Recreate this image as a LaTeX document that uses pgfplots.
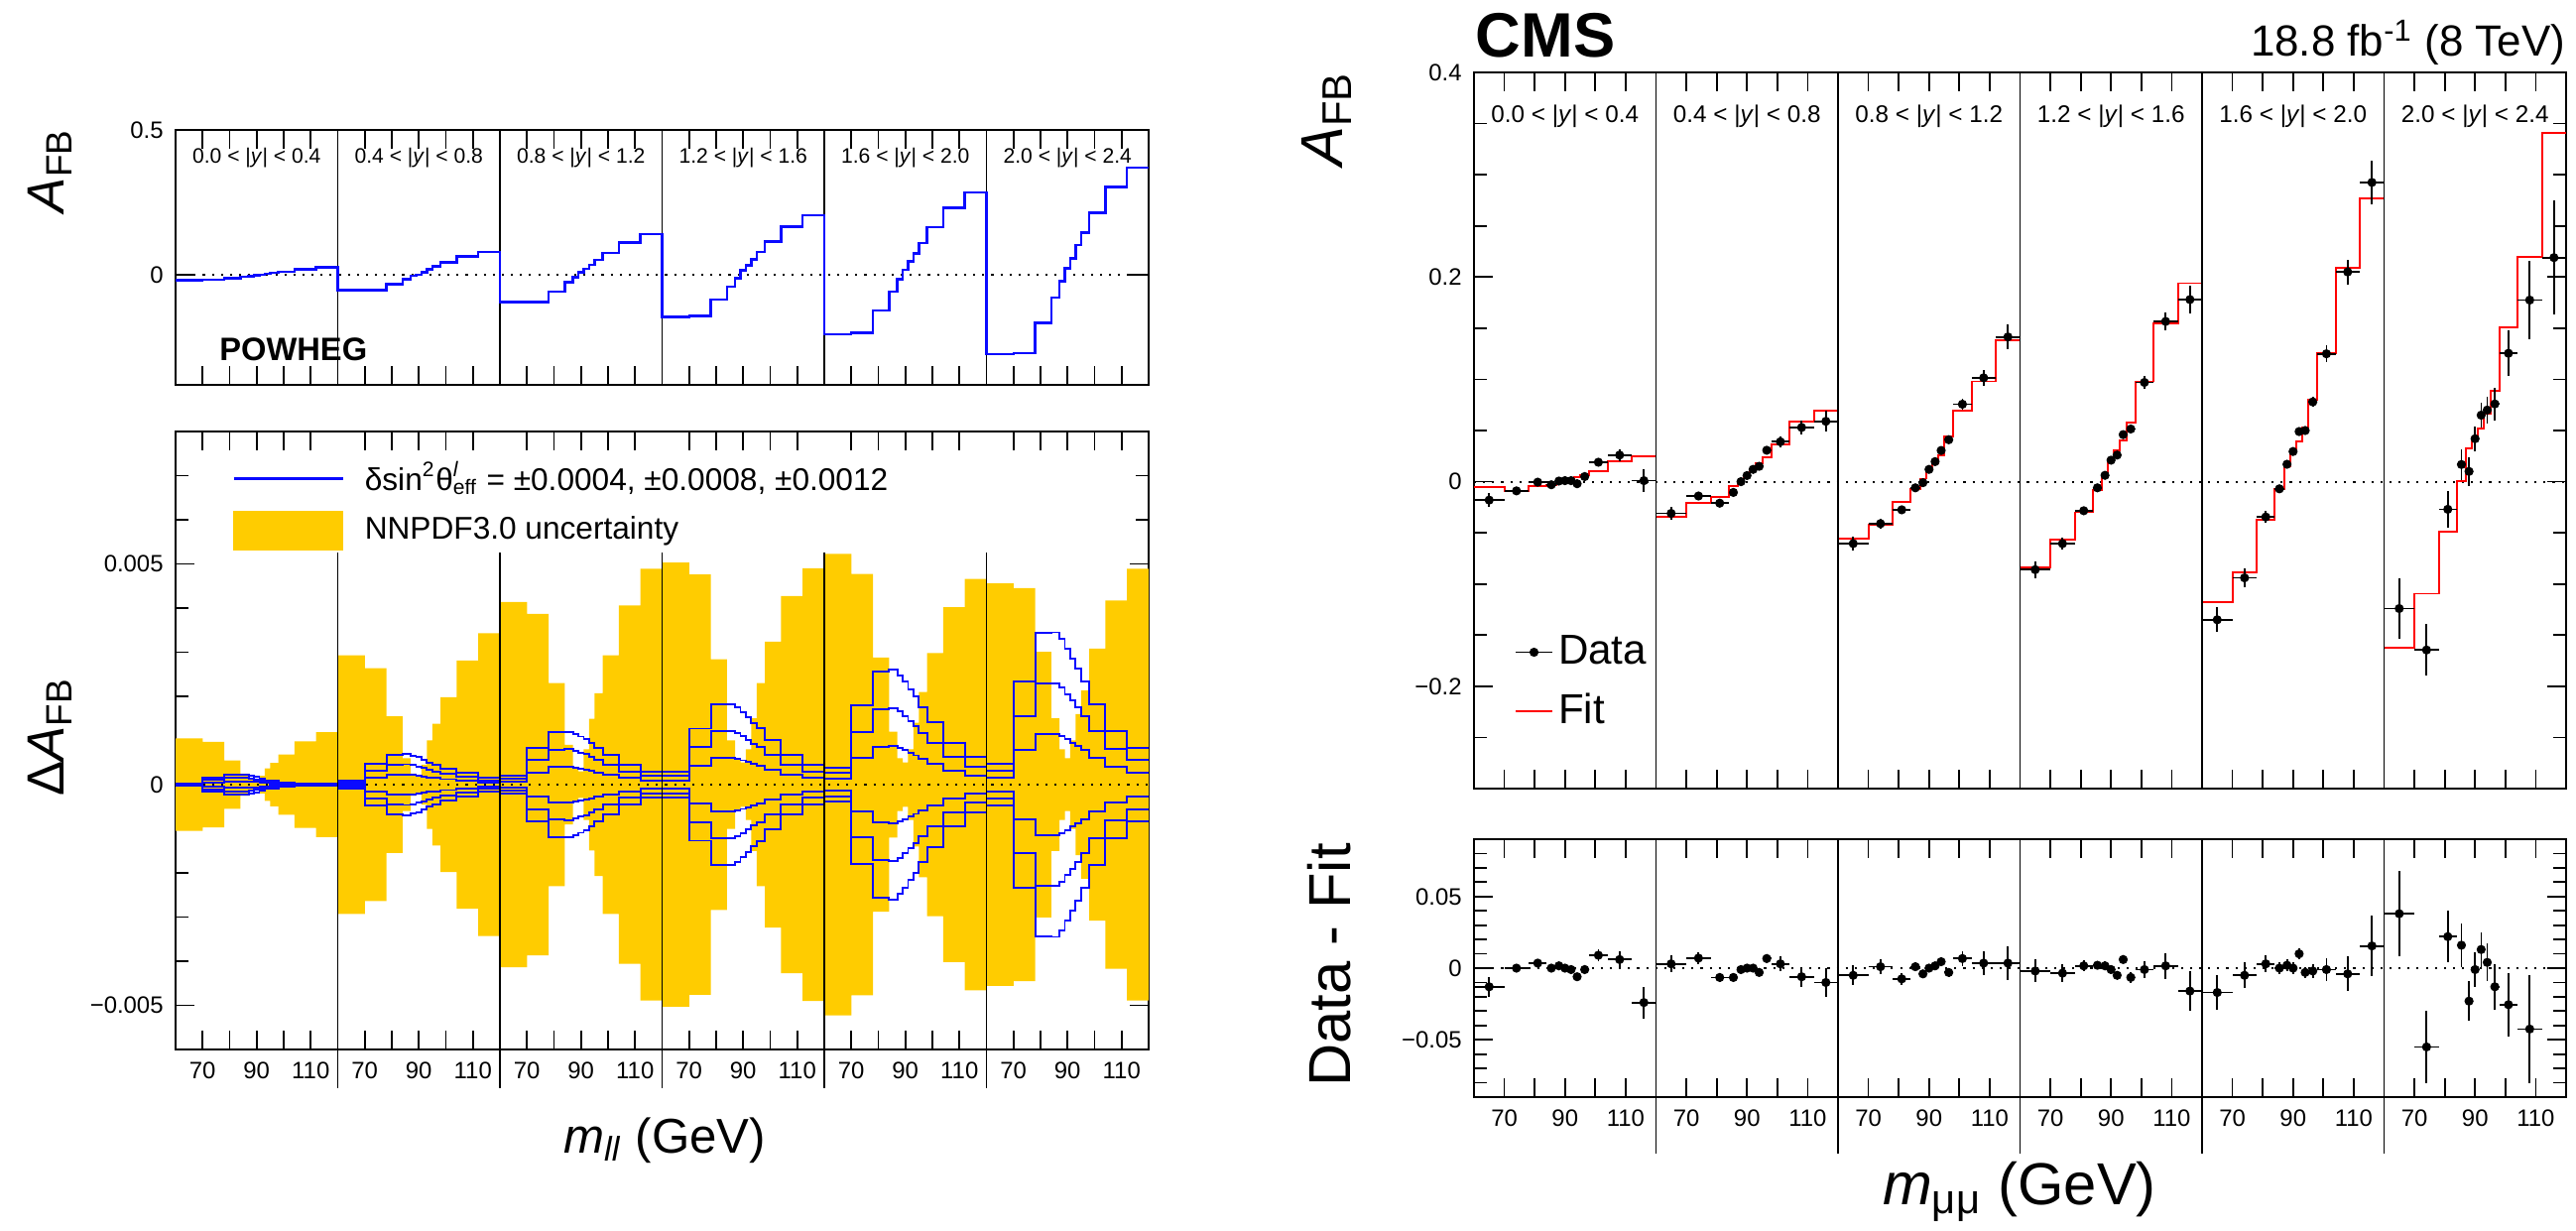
\documentclass[border=0pt]{standalone}
\usepackage{pgfplots}
\pgfplotsset{compat=1.18}
\usepackage{pgfplotstable}
\usepackage{fontspec}
\setmainfont{Liberation Sans}
\definecolor{bandc}{RGB}{255,204,0}
\definecolor{lblue}{RGB}{10,10,255}
\definecolor{fitred}{RGB}{255,0,0}

% step table: left bin edge (x = 60*rapidity bin + m - 60), POWHEG AFB, NNPDF band (1e-3), blue lines (1e-3), fit
\pgfplotstableread{
X pw bd bn l1 l2 l3 n1 n2 n3 ft
0 -0.017 1.05 -1.05 0.010 0.020 0.030 -0.010 -0.020 -0.030 -0.005
10 -0.015 0.97 -0.97 0.055 0.110 0.165 -0.055 -0.110 -0.165 -0.009
18 -0.011 0.55 -0.55 0.077 0.153 0.230 -0.077 -0.153 -0.230 -0.004
24 -0.006 0.25 -0.25 0.077 0.153 0.230 -0.077 -0.153 -0.230 -0.003
27 -0.004 0.12 -0.12 0.070 0.140 0.210 -0.070 -0.140 -0.210 -0.001
29 -0.001 0.10 -0.10 0.057 0.113 0.170 -0.057 -0.113 -0.170 0.001
31 0.002 0.20 -0.20 0.043 0.087 0.130 -0.043 -0.087 -0.130 0.002
33 0.005 0.37 -0.37 0.033 0.067 0.100 -0.033 -0.067 -0.100 0.004
35 0.008 0.49 -0.49 0.027 0.053 0.080 -0.027 -0.053 -0.080 0.006
38 0.012 0.68 -0.68 0.017 0.033 0.050 -0.017 -0.033 -0.050 0.010
44 0.020 0.98 -0.98 0.010 0.020 0.030 -0.010 -0.020 -0.030 0.020
52 0.027 1.19 -1.19 0.005 0.010 0.015 -0.005 -0.010 -0.015 0.025
60 -0.052 2.93 -2.93 0.027 0.053 0.080 -0.027 -0.053 -0.080 -0.034
70 -0.051 2.64 -2.64 0.160 0.320 0.480 -0.160 -0.320 -0.480 -0.021
78 -0.032 1.55 -1.55 0.225 0.450 0.675 -0.225 -0.450 -0.675 -0.0145
84 -0.014 0.60 -0.60 0.230 0.460 0.690 -0.230 -0.460 -0.690 -0.004
87 -0.003 0.25 -0.25 0.220 0.440 0.660 -0.220 -0.440 -0.660 0.001
89 0.002 0.20 -0.20 0.207 0.413 0.620 -0.207 -0.413 -0.620 0.006
91 0.010 0.45 -0.45 0.187 0.373 0.560 -0.187 -0.373 -0.560 0.012
93 0.020 1.00 -1.00 0.167 0.333 0.500 -0.167 -0.333 -0.500 0.018
95 0.030 1.38 -1.38 0.150 0.300 0.450 -0.150 -0.300 -0.450 0.024
98 0.044 1.98 -1.98 0.123 0.247 0.370 -0.123 -0.247 -0.370 0.036
104 0.064 2.81 -2.81 0.087 0.173 0.260 -0.087 -0.173 -0.260 0.059
112 0.080 3.43 -3.43 0.050 0.100 0.150 -0.050 -0.100 -0.150 0.069
120 -0.093 4.14 -4.14 0.067 0.133 0.200 -0.067 -0.133 -0.200 -0.0555
130 -0.093 3.87 -3.87 0.280 0.560 0.840 -0.280 -0.560 -0.840 -0.042
138 -0.056 2.30 -2.30 0.397 0.793 1.190 -0.397 -0.793 -1.190 -0.020
144 -0.025 0.90 -0.90 0.400 0.800 1.200 -0.400 -0.800 -1.200 -0.007
147 -0.007 0.40 -0.40 0.380 0.760 1.140 -0.380 -0.760 -1.140 0.003
149 0.010 0.30 -0.30 0.363 0.727 1.090 -0.363 -0.727 -1.090 0.012
151 0.022 0.80 -0.80 0.343 0.687 1.030 -0.343 -0.687 -1.030 0.018
153 0.036 1.49 -1.49 0.313 0.627 0.940 -0.313 -0.627 -0.940 0.026
155 0.052 2.07 -2.07 0.280 0.560 0.840 -0.280 -0.560 -0.840 0.044
158 0.077 2.93 -2.93 0.225 0.450 0.675 -0.225 -0.450 -0.675 0.069
164 0.112 4.06 -4.06 0.150 0.300 0.450 -0.150 -0.300 -0.450 0.098
172 0.141 4.89 -4.89 0.100 0.200 0.300 -0.100 -0.200 -0.300 0.138
180 -0.144 5.03 -5.03 0.100 0.200 0.300 -0.100 -0.200 -0.300 -0.084
190 -0.140 4.76 -4.76 0.423 0.847 1.270 -0.423 -0.847 -1.270 -0.057
198 -0.085 2.84 -2.84 0.607 1.213 1.820 -0.607 -1.213 -1.820 -0.030
204 -0.040 1.00 -1.00 0.610 1.220 1.830 -0.610 -1.220 -1.830 -0.008
207 -0.010 0.60 -0.60 0.587 1.173 1.760 -0.587 -1.173 -1.760 0.0046
209 0.016 0.50 -0.50 0.550 1.100 1.650 -0.550 -1.100 -1.650 0.022
211 0.034 0.80 -0.80 0.507 1.013 1.520 -0.507 -1.013 -1.520 0.031
213 0.054 1.50 -1.50 0.463 0.927 1.390 -0.463 -0.927 -1.390 0.040
215 0.080 2.30 -2.30 0.427 0.853 1.280 -0.427 -0.853 -1.280 0.058
218 0.116 3.24 -3.24 0.337 0.673 1.010 -0.337 -0.673 -1.010 0.098
224 0.167 4.27 -4.27 0.225 0.450 0.675 -0.225 -0.450 -0.675 0.155
232 0.207 4.90 -4.90 0.150 0.300 0.450 -0.150 -0.300 -0.450 0.194
240 -0.203 5.23 -5.23 0.130 0.260 0.390 -0.130 -0.260 -0.390 -0.118
250 -0.199 4.77 -4.77 0.597 1.193 1.790 -0.597 -1.193 -1.790 -0.089
258 -0.121 2.88 -2.88 0.857 1.713 2.570 -0.857 -1.713 -2.570 -0.0375
264 -0.056 1.20 -1.20 0.867 1.733 2.600 -0.867 -1.733 -2.600 -0.007
267 -0.014 0.60 -0.60 0.827 1.653 2.480 -0.827 -1.653 -2.480 0.015
269 0.018 0.50 -0.50 0.777 1.553 2.330 -0.777 -1.553 -2.330 0.0295
271 0.048 0.80 -0.80 0.720 1.440 2.160 -0.720 -1.440 -2.160 0.039
273 0.075 1.40 -1.40 0.663 1.327 1.990 -0.663 -1.327 -1.990 0.053
275 0.110 2.10 -2.10 0.587 1.173 1.760 -0.587 -1.173 -1.760 0.080
278 0.165 2.98 -2.98 0.470 0.940 1.410 -0.470 -0.940 -1.410 0.126
284 0.232 4.02 -4.02 0.313 0.627 0.940 -0.313 -0.627 -0.940 0.209
292 0.285 4.66 -4.66 0.207 0.413 0.620 -0.207 -0.413 -0.620 0.277
300 -0.272 4.56 -4.56 0.160 0.320 0.480 -0.160 -0.320 -0.480 -0.162
310 -0.269 4.45 -4.45 0.780 1.560 2.340 -0.780 -1.560 -2.340 -0.1095
318 -0.165 3.01 -3.01 1.147 2.293 3.440 -1.147 -2.293 -3.440 -0.049
324 -0.077 1.50 -1.50 1.150 2.300 3.450 -1.150 -2.300 -3.450 0.0008
327 -0.021 0.80 -0.80 1.100 2.200 3.300 -1.100 -2.200 -3.300 0.033
329 0.023 0.60 -0.60 1.027 2.053 3.080 -1.027 -2.053 -3.080 0.043
331 0.057 1.00 -1.00 0.950 1.900 2.850 -0.950 -1.900 -2.850 0.052
333 0.103 1.60 -1.60 0.877 1.753 2.630 -0.877 -1.753 -2.630 0.066
335 0.147 2.13 -2.13 0.780 1.560 2.340 -0.780 -1.560 -2.340 0.089
338 0.215 3.08 -3.08 0.607 1.213 1.820 -0.607 -1.213 -1.820 0.151
344 0.303 4.17 -4.17 0.407 0.813 1.220 -0.407 -0.813 -1.220 0.220
352 0.370 4.89 -4.89 0.277 0.553 0.830 -0.277 -0.553 -0.830 0.341
360 0.370 4.89 -4.89 0.277 0.553 0.830 -0.277 -0.553 -0.830 0.341
}\steps

% data points: bin centre, half width, AFB, error, data - fit
\pgfplotstableread{
X xe d e r
5 5 -0.018 0.007 -0.013
14 4 -0.009 0.003 0.000
21 3 -0.0005 0.003 0.0035
25.5 1.5 -0.003 0.002 0.000
28 1 0.0006 0.002 0.0016
30 1 0.001 0.002 0.000
32 1 0.001 0.002 -0.001
34 1 -0.002 0.002 -0.006
36.5 1.5 0.005 0.002 -0.001
41 3 0.019 0.004 0.009
48 4 0.026 0.006 0.006
56 4 0.001 0.011 -0.024
65 5 -0.031 0.006 0.003
74 4 -0.014 0.004 0.007
81 3 -0.021 0.003 -0.0065
85.5 1.5 -0.0105 0.003 -0.0065
88 1 0.000 0.002 -0.001
90 1 0.006 0.002 0.000
92 1 0.012 0.002 0.000
94 1 0.015 0.002 -0.003
96.5 1.5 0.0307 0.003 0.0067
101 3 0.039 0.005 0.003
108 4 0.053 0.007 -0.006
116 4 0.059 0.010 -0.010
125 5 -0.0605 0.007 -0.005
134 4 -0.041 0.005 0.001
141 3 -0.0275 0.004 -0.0075
145.5 1.5 -0.006 0.003 0.001
148 1 -0.001 0.002 -0.004
150 1 0.012 0.002 0.000
152 1 0.0196 0.002 0.0016
154 1 0.0305 0.003 0.0045
156.5 1.5 0.041 0.003 -0.003
161 3 0.0757 0.005 0.0067
168 4 0.1015 0.008 0.0035
176 4 0.1415 0.012 0.0035
185 5 -0.086 0.008 -0.002
194 4 -0.0605 0.006 -0.0035
201 3 -0.0284 0.004 0.0016
205.5 1.5 -0.006 0.003 0.002
208 1 0.0062 0.003 0.0016
210 1 0.021 0.003 -0.001
212 1 0.026 0.003 -0.005
214 1 0.046 0.003 0.006
216.5 1.5 0.0515 0.004 -0.0065
221 3 0.097 0.006 -0.001
228 4 0.1566 0.009 0.0016
236 4 0.178 0.014 -0.016
245 5 -0.135 0.012 -0.017
254 4 -0.094 0.009 -0.005
261 3 -0.0345 0.006 0.003
265.5 1.5 -0.007 0.004 0.000
268 1 0.017 0.004 0.002
270 1 0.0295 0.004 0.000
272 1 0.049 0.004 0.010
274 1 0.050 0.004 -0.003
276.5 1.5 0.078 0.005 -0.002
281 3 0.125 0.008 -0.001
288 4 0.205 0.012 -0.004
296 4 0.2925 0.021 0.0155
305 5 -0.124 0.030 0.038
314 4 -0.1645 0.025 -0.055
321 3 -0.027 0.018 0.022
325.5 1.5 0.0168 0.015 0.016
328 1 0.010 0.014 -0.023
330 1 0.042 0.012 -0.001
332 1 0.065 0.012 0.013
334 1 0.070 0.013 0.004
336.5 1.5 0.076 0.016 -0.013
341 3 0.1255 0.022 -0.0255
348 4 0.1775 0.038 -0.0425
356 4 0.219 0.056 nan
}\pts

\pgfplotsset{
  panel/.style={
    scale only axis,
    xmin=0, xmax=360,
    axis line style={line width=0.7pt},
    tick style={black, line width=0.5pt},
    major tick length=1.9mm,
    minor tick length=1.3mm,
    xtick={10,20,30,40,50,70,80,90,100,110,130,140,150,160,170,190,200,210,220,230,250,260,270,280,290,310,320,330,340,350},
    tick label style={font=\fontsize{6.8}{8}\selectfont},
    scaled y ticks=false,
    clip mode=individual,
  },
  mlabels/.style={xticklabels={70,,90,,110,70,,90,,110,70,,90,,110,70,,90,,110,70,,90,,110,70,,90,,110}},
  databars/.style={black, only marks, mark=*, mark size=1.1pt,
    error bars/.cd, x dir=both, x explicit, y dir=both, y explicit,
    error mark=none, error bar style={line width=0.5pt, black}},
}

\begin{document}
\begin{tikzpicture}
\useasboundingbox (0,0) rectangle (259.7mm,124mm);

% ---------------- top left: POWHEG AFB
\begin{axis}[panel, at={(17.7mm,85.2mm)}, anchor=south west,
  width=98.1mm, height=25.7mm, ymin=-0.378, ymax=0.5,
  ytick={0,0.5}, yticklabels={0,0.5}, xticklabels={}]
\addplot[black, dotted, line width=0.6pt] coordinates {(0,0) (360,0)};
\draw[line width=0.5pt] (axis cs:60,-0.378) -- (axis cs:60,0.5);
\draw[line width=0.5pt] (axis cs:120,-0.378) -- (axis cs:120,0.5);
\draw[line width=0.5pt] (axis cs:180,-0.378) -- (axis cs:180,0.5);
\draw[line width=0.5pt] (axis cs:240,-0.378) -- (axis cs:240,0.5);
\draw[line width=0.5pt] (axis cs:300,-0.378) -- (axis cs:300,0.5);
\addplot[const plot, lblue, line width=0.7pt] table[x=X,y=pw] {\steps};
\node[font=\fontsize{6}{7}\selectfont, anchor=base] at (axis cs:30,0.387) {0.0 < |\textit{y}| < 0.4};
\node[font=\fontsize{6}{7}\selectfont, anchor=base] at (axis cs:90,0.387) {0.4 < |\textit{y}| < 0.8};
\node[font=\fontsize{6}{7}\selectfont, anchor=base] at (axis cs:150,0.387) {0.8 < |\textit{y}| < 1.2};
\node[font=\fontsize{6}{7}\selectfont, anchor=base] at (axis cs:210,0.387) {1.2 < |\textit{y}| < 1.6};
\node[font=\fontsize{6}{7}\selectfont, anchor=base] at (axis cs:270,0.387) {1.6 < |\textit{y}| < 2.0};
\node[font=\fontsize{6}{7}\selectfont, anchor=base] at (axis cs:330,0.387) {2.0 < |\textit{y}| < 2.4};
\node[font=\fontsize{9.3}{11}\selectfont\bfseries, anchor=base west, inner sep=0pt] at (axis cs:16,-0.293) {POWHEG};
\end{axis}

% ---------------- bottom left: Delta AFB
\begin{axis}[panel, at={(17.7mm,18.2mm)}, anchor=south west,
  width=98.1mm, height=62.3mm, ymin=-6, ymax=8,
  ytick={-5,0,5}, yticklabels={−0.005,0,0.005},
  minor ytick={-4,-3,-2,-1,1,2,3,4,6,7}, mlabels,
  legend style={at={(0.047,0.968)}, anchor=north west, draw=none, fill=none,
    font=\fontsize{9}{11}\selectfont, row sep=1.2mm, nodes={inner sep=0.3mm}},
  legend cell align=left]
\addlegendimage{legend image code/.code={\draw[lblue,line width=0.7pt] (0mm,0mm) -- (11mm,0mm);}}
\addlegendentry{\hspace{1.8mm}δsin\textsuperscript{2}θ\rlap{\textsuperscript{\textit{l}}}\textsubscript{eff} = ±0.0004, ±0.0008, ±0.0012}
\addlegendimage{legend image code/.code={\fill[bandc] (0mm,-1.95mm) rectangle (11mm,1.95mm);}}
\addlegendentry{\hspace{1.8mm}NNPDF3.0 uncertainty}
\addplot[const plot, fill=bandc, draw=none, forget plot] table[x=X,y=bd] {\steps} \closedcycle;
\addplot[const plot, fill=bandc, draw=none, forget plot] table[x=X,y=bn] {\steps} \closedcycle;
\addplot[black, dotted, line width=0.6pt, forget plot] coordinates {(0,0) (360,0)};
\addplot[const plot, lblue, line width=0.55pt, forget plot] table[x=X,y=l1] {\steps};
\addplot[const plot, lblue, line width=0.55pt, forget plot] table[x=X,y=l2] {\steps};
\addplot[const plot, lblue, line width=0.55pt, forget plot] table[x=X,y=l3] {\steps};
\addplot[const plot, lblue, line width=0.55pt, forget plot] table[x=X,y=n1] {\steps};
\addplot[const plot, lblue, line width=0.55pt, forget plot] table[x=X,y=n2] {\steps};
\addplot[const plot, lblue, line width=0.55pt, forget plot] table[x=X,y=n3] {\steps};
\draw[line width=0.5pt] (axis cs:60,5.25) -- (axis cs:60,-6) -- ++(0mm,-3.9mm);
\draw[line width=0.5pt] (axis cs:120,5.25) -- (axis cs:120,-6) -- ++(0mm,-3.9mm);
\draw[line width=0.5pt] (axis cs:180,5.25) -- (axis cs:180,-6) -- ++(0mm,-3.9mm);
\draw[line width=0.5pt] (axis cs:240,5.25) -- (axis cs:240,-6) -- ++(0mm,-3.9mm);
\draw[line width=0.5pt] (axis cs:300,5.25) -- (axis cs:300,-6) -- ++(0mm,-3.9mm);
\end{axis}

% ---------------- top right: data and fit
\begin{axis}[panel, at={(148.6mm,44.5mm)}, anchor=south west,
  width=110.1mm, height=72.2mm, ymin=-0.3, ymax=0.4,
  ytick={-0.2,0,0.2,0.4}, yticklabels={−0.2,0,0.2,0.4},
  minor ytick={-0.25,-0.15,-0.1,-0.05,0.05,0.1,0.15,0.25,0.3,0.35},
  xticklabels={},
  legend style={at={(0.027,0.229)}, anchor=north west, draw=none, fill=none,
    font=\fontsize{12}{14}\selectfont, row sep=1.8mm, nodes={inner sep=0.3mm}},
  legend cell align=left]
\addlegendimage{legend image code/.code={\draw[black,line width=0.5pt] (0mm,0mm) -- (3.7mm,0mm); \draw[black,mark=*,mark size=1.1pt] plot coordinates {(1.85mm,0mm)};}}
\addlegendentry{\hspace{0.2mm}Data}
\addlegendimage{legend image code/.code={\draw[fitred,line width=0.6pt] (0mm,0mm) -- (3.7mm,0mm);}}
\addlegendentry{\hspace{0.2mm}Fit}
\addplot[black, dotted, line width=0.6pt, forget plot] coordinates {(0,0) (360,0)};
\addplot[const plot, fitred, line width=0.55pt, forget plot] table[x=X,y=ft] {\steps};
\draw[line width=0.5pt] (axis cs:60,-0.3) -- (axis cs:60,0.4);
\draw[line width=0.5pt] (axis cs:120,-0.3) -- (axis cs:120,0.4);
\draw[line width=0.5pt] (axis cs:180,-0.3) -- (axis cs:180,0.4);
\draw[line width=0.5pt] (axis cs:240,-0.3) -- (axis cs:240,0.4);
\draw[line width=0.5pt] (axis cs:300,-0.3) -- (axis cs:300,0.4);
\addplot[forget plot, databars] table[x=X, y=d, x error=xe, y error=e] {\pts};
\node[font=\fontsize{6.9}{8}\selectfont, anchor=base] at (axis cs:30,0.351) {0.0 < |\textit{y}| < 0.4};
\node[font=\fontsize{6.9}{8}\selectfont, anchor=base] at (axis cs:90,0.351) {0.4 < |\textit{y}| < 0.8};
\node[font=\fontsize{6.9}{8}\selectfont, anchor=base] at (axis cs:150,0.351) {0.8 < |\textit{y}| < 1.2};
\node[font=\fontsize{6.9}{8}\selectfont, anchor=base] at (axis cs:210,0.351) {1.2 < |\textit{y}| < 1.6};
\node[font=\fontsize{6.9}{8}\selectfont, anchor=base] at (axis cs:270,0.351) {1.6 < |\textit{y}| < 2.0};
\node[font=\fontsize{6.9}{8}\selectfont, anchor=base] at (axis cs:330,0.351) {2.0 < |\textit{y}| < 2.4};
\end{axis}

% ---------------- bottom right: data - fit
\begin{axis}[panel, at={(148.6mm,13.4mm)}, anchor=south west,
  width=110.1mm, height=26.0mm, ymin=-0.09, ymax=0.09,
  ytick={-0.05,0,0.05}, yticklabels={−0.05,0,0.05},
  minor ytick={-0.08,-0.07,-0.06,-0.04,-0.03,-0.02,-0.01,0.01,0.02,0.03,0.04,0.06,0.07,0.08},
  mlabels, unbounded coords=discard]
\addplot[black, dotted, line width=0.6pt] coordinates {(0,0) (360,0)};
\draw[line width=0.5pt] (axis cs:60,0.09) -- (axis cs:60,-0.09) -- ++(0mm,-5.7mm);
\draw[line width=0.5pt] (axis cs:120,0.09) -- (axis cs:120,-0.09) -- ++(0mm,-5.7mm);
\draw[line width=0.5pt] (axis cs:180,0.09) -- (axis cs:180,-0.09) -- ++(0mm,-5.7mm);
\draw[line width=0.5pt] (axis cs:240,0.09) -- (axis cs:240,-0.09) -- ++(0mm,-5.7mm);
\draw[line width=0.5pt] (axis cs:300,0.09) -- (axis cs:300,-0.09) -- ++(0mm,-5.7mm);
\addplot[databars] table[x=X, y=r, x error=xe, y error=e] {\pts};
\end{axis}

% ---------------- titles and axis labels
\node[font=\fontsize{18}{20}\selectfont\bfseries, anchor=base west, inner sep=0pt] at (148.7mm,118.2mm) {CMS};
\node[font=\fontsize{12.5}{14}\selectfont, anchor=base east, inner sep=0pt] at (258.7mm,118.3mm) {18.8 fb\textsuperscript{-1} (8 TeV)};
\node[font=\fontsize{15}{18}\selectfont, rotate=90] at (5.0mm,106.8mm) {\textit{A}\textsubscript{FB}};
\node[font=\fontsize{15}{18}\selectfont, rotate=90] at (5.0mm,49.7mm) {Δ\textit{A}\textsubscript{FB}};
\node[font=\fontsize{17}{20}\selectfont, rotate=90] at (133.7mm,112.0mm) {\textit{A}\textsubscript{FB}};
\node[font=\fontsize{17}{20}\selectfont, rotate=90] at (134.0mm,26.7mm) {Data - Fit};
\node[font=\fontsize{14}{16}\selectfont] at (67.0mm,9.0mm) {\textit{m}\textsubscript{\textit{ll}} (GeV)};
\node[font=\fontsize{17}{20}\selectfont] at (203.6mm,3.9mm) {\textit{m}\textsubscript{μμ} (GeV)};
\end{tikzpicture}
\end{document}
